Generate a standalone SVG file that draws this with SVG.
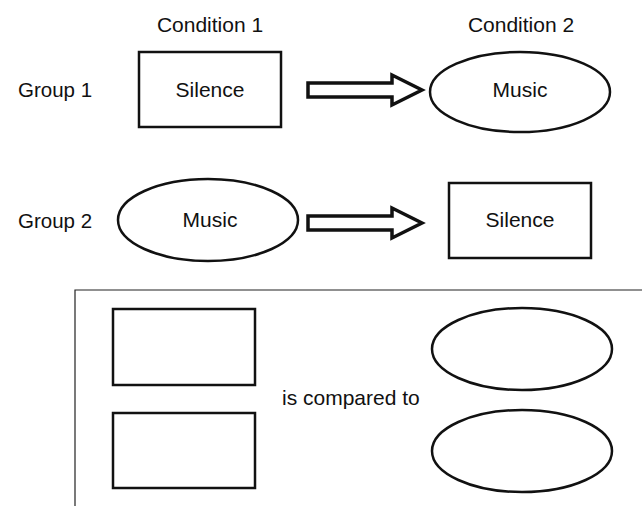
<svg xmlns="http://www.w3.org/2000/svg" width="642" height="506" viewBox="0 0 642 506">
<style>
text{font-family:"Liberation Sans",Arial,sans-serif;font-size:21px;fill:#111}
.c{text-anchor:middle}
.shape{fill:#fff;stroke:#111;stroke-width:2.5}
.arrow{fill:#fff;stroke:#111;stroke-width:3.5;stroke-linejoin:miter}
.frame{fill:none;stroke:#222;stroke-width:1.2}
</style>
<rect width="642" height="506" fill="#fff"/>
<g id="labels">
<text class="c" x="210" y="32">Condition 1</text>
<text class="c" x="521" y="32">Condition 2</text>
<text x="18" y="97" style="font-size:20.5px">Group 1</text>
<text x="18" y="228" style="font-size:20.5px">Group 2</text>
</g>
<g id="g1-silence">
<rect class="shape" x="139" y="52" width="142" height="75"/>
<text class="c" x="210" y="97">Silence</text>
</g>
<g id="g1-music">
<ellipse class="shape" cx="520" cy="92" rx="90" ry="40"/>
<text class="c" x="520" y="97">Music</text>
</g>
<g id="g2-music">
<ellipse class="shape" cx="208" cy="220" rx="90" ry="41"/>
<text class="c" x="210" y="227">Music</text>
</g>
<g id="g2-silence">
<rect class="shape" x="449" y="183" width="142" height="75"/>
<text class="c" x="520" y="227">Silence</text>
</g>
<g id="connectors">
<polygon class="arrow" points="308,83 392,83 392,75 422,90 392,105 392,97 308,97"/>
<polygon class="arrow" points="308,216 392,216 392,208 422,223 392,238 392,230 308,230"/>
</g>
<g id="comparison">
<path class="frame" d="M75,506 V290 H642"/>
<rect class="shape" x="113" y="309" width="142" height="76"/>
<rect class="shape" x="113" y="413" width="142" height="75"/>
<ellipse class="shape" cx="522" cy="349" rx="90" ry="41"/>
<ellipse class="shape" cx="522" cy="451" rx="90" ry="41"/>
<text x="282" y="405">is compared to</text>
</g>
</svg>
